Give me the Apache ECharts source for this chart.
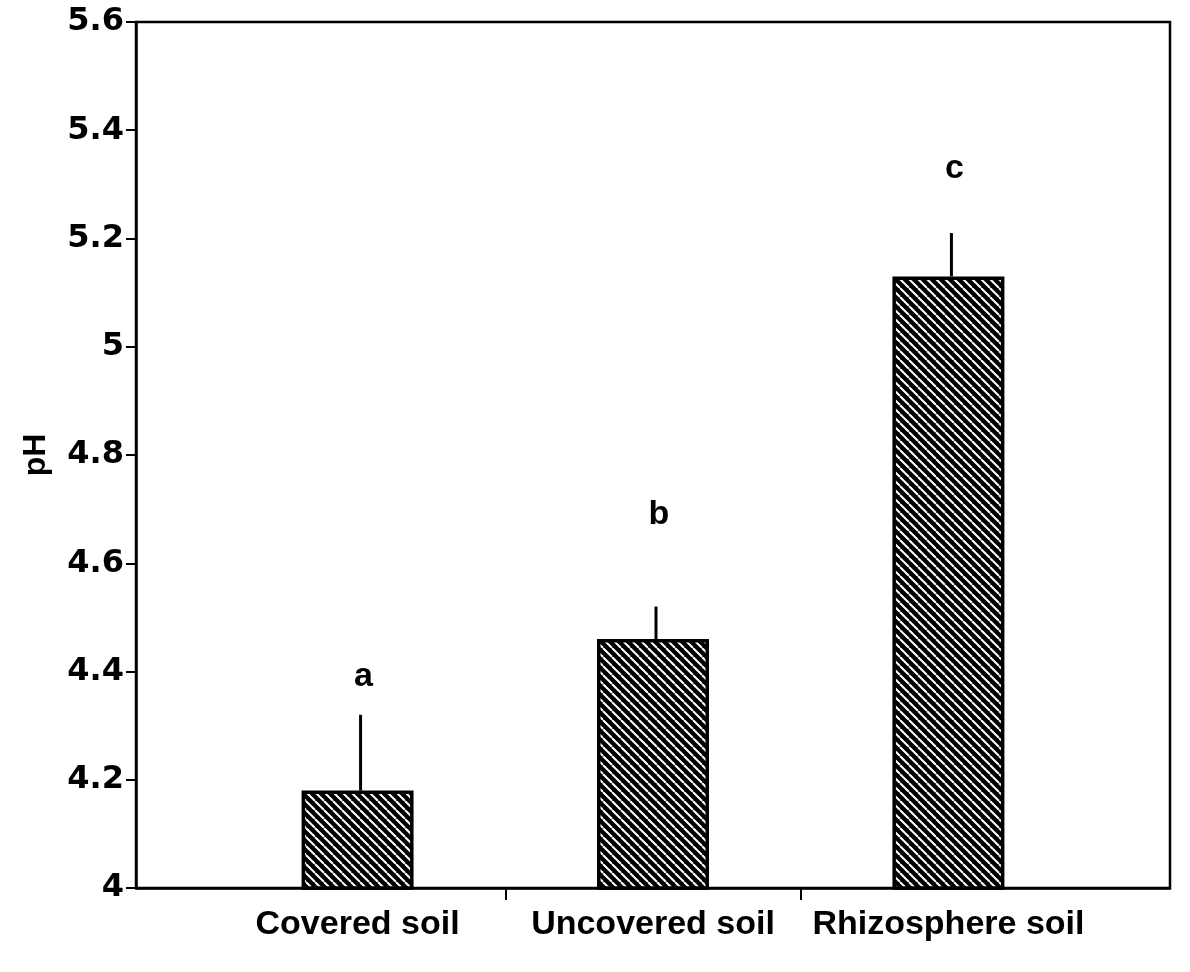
<!DOCTYPE html>
<html>
<head>
<meta charset="utf-8">
<script src="https://cdn.jsdelivr.net/npm/echarts@6/dist/echarts.min.js"></script>
<style>
html,body{margin:0;padding:0;background:#fff;}
#chart{width:1190px;height:972px;}
</style>
</head>
<body>
<div id="chart"></div>
<script>
// ---- data ----
const categories = ['Covered soil', 'Uncovered soil', 'Rhizosphere soil'];
const positions = [1, 2, 3];
const means = [4.18, 4.46, 5.13];
const errTops = [4.32, 4.52, 5.21];
const letters = ['a', 'b', 'c'];
const letterHeights = [4.39, 4.69, 5.33];
const yTicks = { min: 4, max: 5.6, step: 0.2 };

// hatch pattern: black with white "\" stripes
function makeHatch() {
  const s = 9;
  const c = document.createElement('canvas');
  c.width = s; c.height = s;
  const g = c.getContext('2d');
  g.fillStyle = '#000';
  g.fillRect(0, 0, s, s);
  g.strokeStyle = '#fff';
  g.lineWidth = 2;
  for (const o of [-s, 0, s]) {
    g.beginPath();
    g.moveTo(o, 0);
    g.lineTo(o + s, s);
    g.stroke();
  }
  return c;
}

const chart = echarts.init(document.getElementById('chart'), null, { renderer: 'canvas' });
const font = 'DejaVu Sans';

const option = {
  backgroundColor: '#fff',
  animation: false,
  grid: {
    left: 136, right: 20, top: 22, bottom: 84,
    show: true, borderColor: '#000', borderWidth: 2.5, backgroundColor: 'transparent'
  },
  xAxis: {
    type: 'value',
    min: 0.25, max: 3.75,
    splitLine: { show: false },
    axisLine: { show: true, lineStyle: { color: '#000', width: 2.5 } },
    axisTick: { show: true, inside: false, length: 12, lineStyle: { color: '#000', width: 2 }, customValues: [1.5, 2.5] },
    axisLabel: {
      show: true, customValues: positions, margin: 20,
      formatter: v => categories[positions.indexOf(Math.round(v))] || '',
      color: '#000', fontFamily: 'Liberation Sans', fontSize: 34, fontWeight: 'bold'
    }
  },
  yAxis: {
    type: 'value',
    min: yTicks.min, max: yTicks.max, interval: yTicks.step,
    name: 'pH', nameLocation: 'middle', nameGap: 84,
    nameTextStyle: { color: '#000', fontFamily: 'Liberation Sans', fontSize: 32, fontWeight: 'bold' },
    splitLine: { show: false },
    axisLine: { show: true, lineStyle: { color: '#000', width: 2.5 } },
    axisTick: { show: true, length: 10, lineStyle: { color: '#000', width: 2 } },
    axisLabel: {
      color: '#000', fontFamily: font, fontSize: 32, fontWeight: 'bold', margin: 12,
      formatter: v => String(Math.round(v * 10) / 10)
    }
  },
  series: [
    {
      type: 'bar',
      data: positions.map((p, i) => [p, means[i]]),
      barWidth: 112,
      itemStyle: {
        color: { image: makeHatch(), repeat: 'repeat' },
        borderColor: '#000', borderWidth: 3.5
      }
    },
    {
      type: 'custom',
      data: positions.map((p, i) => [p, means[i], errTops[i]]),
      encode: { x: 0, y: [1, 2] },
      renderItem: function (params, api) {
        const a = api.coord([api.value(0), api.value(1)]);
        const b = api.coord([api.value(0), api.value(2)]);
        return {
          type: 'line',
          shape: { x1: a[0] + 3, y1: a[1], x2: b[0] + 3, y2: b[1] },
          style: { stroke: '#000', lineWidth: 3 }
        };
      },
      z: 5
    },
    {
      type: 'custom',
      data: positions.map((p, i) => [p, letterHeights[i], i]),
      encode: { x: 0, y: 1 },
      renderItem: function (params, api) {
        const pt = api.coord([api.value(0), api.value(1)]);
        return {
          type: 'text',
          x: pt[0] + 6, y: pt[1],
          style: {
            text: letters[api.value(2)],
            fill: '#000', align: 'center', verticalAlign: 'middle',
            font: 'bold 34px "Liberation Sans"'
          }
        };
      },
      z: 6
    }
  ]
};
chart.setOption(option);
</script>
</body>
</html>
